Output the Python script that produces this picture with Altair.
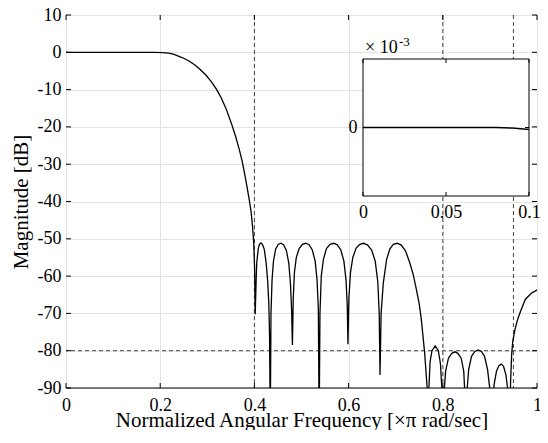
import altair as alt
import pandas as pd

# ---------------- data ----------------
freq = [
    0, 0.05, 0.1, 0.15, 0.19, 0.205, 0.2175, 0.228, 0.2386, 0.25, 0.262, 0.2737, 0.285, 0.297,
    0.3088, 0.32, 0.33, 0.341, 0.351, 0.36, 0.368, 0.374, 0.379, 0.384, 0.389, 0.393, 0.396,
    0.3985, 0.4005, 0.4017,
    0.4040, 0.405, 0.4084, 0.4110, 0.414, 0.4175, 0.4211, 0.4250, 0.428, 0.4305, 0.4322, 0.4337,
    0.4352, 0.4375, 0.4405, 0.4450, 0.4505, 0.456, 0.4620, 0.4680, 0.4730, 0.4765, 0.4790, 0.4807,
    0.4825, 0.4850, 0.4890, 0.4950, 0.5020, 0.5088, 0.5160, 0.5230, 0.5290, 0.5330, 0.5358, 0.5375,
    0.5392, 0.5420, 0.5465, 0.5530, 0.5605, 0.5684, 0.5760, 0.5835, 0.5900, 0.5945, 0.5972, 0.5986,
    0.6006, 0.6040, 0.6090, 0.6160, 0.6240, 0.6316, 0.6400, 0.6490, 0.6565, 0.6620, 0.6650, 0.6667,
    0.6690, 0.6737, 0.6807, 0.6877, 0.6950, 0.7032, 0.7120, 0.7210, 0.7298, 0.7370, 0.7440, 0.7500,
    0.7544, 0.7614, 0.7670, 0.7684,
    0.7705, 0.7730, 0.7770, 0.7839, 0.7905, 0.7950, 0.7980, 0.8000,
    0.8022, 0.8060, 0.8120, 0.8190, 0.8260, 0.8320, 0.8390, 0.8445, 0.8470, 0.8490,
    0.8512, 0.8550, 0.8610, 0.8680, 0.8750, 0.8820, 0.8885, 0.8950, 0.9005, 0.9030,
    0.9055, 0.9090, 0.9140, 0.9190, 0.9240, 0.9290, 0.9340, 0.9375, 0.9400, 0.9420,
    0.9440, 0.9462, 0.9485, 0.953, 0.958, 0.9614, 0.968, 0.9754, 0.988, 1.0,
]
mag_db = [
    0, 0, 0, 0, -0.02, -0.08, -0.2, -0.5, -1.0, -1.6, -2.4, -3.4, -4.6, -6.1,
    -7.9, -10.0, -12.3, -15.5, -19.0, -22.5, -26.1, -29.2, -32.4, -35.8, -39.5, -42.8, -46.6,
    -51, -58, -70.2,
    -60, -56.4, -52.5, -51.4, -51.1, -51.6, -52.9, -56.5, -61, -67, -76, -100,
    -70, -61, -56, -52.8, -51.5, -51.2, -51.6, -53.2, -56.5, -62, -69, -78.5,
    -66, -59, -55, -52.6, -51.5, -51.2, -51.6, -53, -56, -61, -69, -100,
    -70, -60, -55.5, -52.6, -51.5, -51.2, -51.6, -53, -56, -61, -68, -78.3,
    -66, -59, -55, -52.5, -51.5, -51.2, -51.6, -53, -56, -61.5, -70, -86.5,
    -70, -61.8, -55.5, -52.7, -51.5, -51.2, -51.7, -53.3, -56.4, -59.5, -63.6, -67.5,
    -71.6, -80.5, -90.3, -100,
    -90, -83, -80, -78.7, -80, -83.5, -90, -100,
    -92, -85.5, -82, -80.7, -80.3, -80.7, -82, -85.5, -92, -100,
    -91, -85, -81.5, -80.2, -79.8, -80.2, -81.5, -85, -91, -100,
    -95, -89, -85.5, -84, -83.6, -84.2, -86.5, -90, -96, -100,
    -88, -81, -77.5, -74.5, -72, -70.7, -68.5, -66.2, -64.6, -63.7,
]

# inset (zoom of the passband), magnitude in units of 1e-3 dB
inset_freq = [0, 0.02, 0.04, 0.06, 0.08, 0.085, 0.09, 0.095, 0.1]
inset_mag = [0, 0, 0, 0, 0, -0.004, -0.009, -0.018, -0.03]

x_ticks = [0, 0.2, 0.4, 0.6, 0.8, 1]
y_ticks = [10, 0, -10, -20, -30, -40, -50, -60, -70, -80, -90]
band_edges = [0.4, 0.8, 0.95]
stop_level = [-80]
inset_x_ticks = [0, 0.05, 0.1]
inset_y_ticks = [0]
inset_box = {"x0": [0], "x1": [0.1], "y0": [-1], "y1": [1]}

x_title = "Normalized Angular Frequency [\u00d7\u03c0 rad/sec]"
y_title = "Magnitude [dB]"
exp_base_text = "\u00d7 10"
exp_pow_text = "-3"

# ---------------- styling ----------------
W, H = 471, 373
PAD_L = 58
FONT = "Liberation Serif"
LBL = 18
TTL = 21
GRID = "#e3e3e3"
DASH = "#444444"

main_df = pd.DataFrame({"f": freq, "m": mag_db})
inset_df = pd.DataFrame({"f": inset_freq, "m": inset_mag})
xt_df = pd.DataFrame({"v": x_ticks})
yt_df = pd.DataFrame({"v": y_ticks})
edge_df = pd.DataFrame({"v": band_edges})
lvl_df = pd.DataFrame({"v": stop_level})
ixt_df = pd.DataFrame({"v": inset_x_ticks})
iyt_df = pd.DataFrame({"v": inset_y_ticks})
box_df = pd.DataFrame(inset_box)
dummy = pd.DataFrame({"v": [-90]})


def xs():
    return alt.Scale(domain=[0, 1], nice=False, zero=False)


def ys():
    return alt.Scale(domain=[-90, 10], nice=False, zero=False)


lbl_expr = "'' + datum.value"

x_axis = alt.Axis(values=x_ticks, labelExpr=lbl_expr, title=x_title, grid=True, gridColor=GRID,
                  ticks=False, domain=False, labelFont=FONT, labelFontSize=LBL, labelColor="black",
                  labelPadding=8, labelFlush=False, titleFont=FONT, titleFontSize=TTL,
                  titleFontWeight="normal", titleColor="black", titleY=38,
                  titleBaseline="alphabetic", orient="bottom")
y_axis = alt.Axis(values=y_ticks, labelExpr=lbl_expr, title=y_title, grid=True, gridColor=GRID,
                  ticks=False, domain=False, labelFont=FONT, labelFontSize=LBL, labelColor="black",
                  labelPadding=5, labelFlush=False, titleFont=FONT, titleFontSize=TTL,
                  titleFontWeight="normal", titleColor="black", titleX=-39, titleY=H / 2,
                  titleBaseline="alphabetic", orient="left")

curve = alt.Chart(main_df).mark_line(color="black", strokeWidth=1.3, clip=True).encode(
    x=alt.X("f:Q", scale=xs(), axis=x_axis),
    y=alt.Y("m:Q", scale=ys(), axis=y_axis),
)

edges = alt.Chart(edge_df).mark_rule(color=DASH, strokeDash=[4, 3], strokeWidth=1).encode(
    x=alt.X("v:Q", scale=xs(), axis=None))
level = alt.Chart(lvl_df).mark_rule(color=DASH, strokeDash=[4, 3], strokeWidth=1).encode(
    y=alt.Y("v:Q", scale=ys(), axis=None))
bottom = alt.Chart(dummy).mark_rule(color="black", strokeWidth=1.2).encode(
    y=alt.Y("v:Q", scale=ys(), axis=None))

tick_b = alt.Chart(xt_df).mark_rule(color="black").encode(
    x=alt.X("v:Q", scale=xs(), axis=None), y=alt.value(H), y2=alt.value(H - 5))
tick_t = alt.Chart(xt_df).mark_rule(color="black").encode(
    x=alt.X("v:Q", scale=xs(), axis=None), y=alt.value(0), y2=alt.value(5))
tick_l = alt.Chart(yt_df).mark_rule(color="black").encode(
    y=alt.Y("v:Q", scale=ys(), axis=None), x=alt.value(0), x2=alt.value(5))
tick_r = alt.Chart(yt_df).mark_rule(color="black").encode(
    y=alt.Y("v:Q", scale=ys(), axis=None), x=alt.value(W), x2=alt.value(W - 5))

# ---------------- inset ----------------
IX0, IX1 = 297, 463
IYT, IYB = 44, 181


def ixs():
    return alt.Scale(domain=[0, 0.1], range=[IX0, IX1], nice=False, zero=False)


def iys():
    return alt.Scale(domain=[-1, 1], range=[IYB, IYT], nice=False, zero=False)


ix_axis = alt.Axis(orient="bottom", offset=-(H - IYB), values=inset_x_ticks, labelExpr=lbl_expr,
                   title=None, grid=False, ticks=False, domain=False, labelFont=FONT,
                   labelFontSize=LBL, labelColor="black", labelPadding=7, labelFlush=False, zindex=1)
iy_axis = alt.Axis(orient="left", offset=-IX0, values=inset_y_ticks, labelExpr=lbl_expr,
                   title=None, grid=False, ticks=False, domain=False, labelFont=FONT,
                   labelFontSize=LBL, labelColor="black", labelPadding=6, labelFlush=False, zindex=1)

box = alt.Chart(box_df).mark_rect(fill="white", stroke="black", strokeWidth=1).encode(
    x=alt.X("x0:Q", scale=ixs(), axis=ix_axis), x2="x1:Q",
    y=alt.Y("y0:Q", scale=iys(), axis=iy_axis), y2="y1:Q",
)
icurve = alt.Chart(inset_df).mark_line(color="black", strokeWidth=1.5).encode(
    x=alt.X("f:Q", scale=ixs(), axis=None), y=alt.Y("m:Q", scale=iys(), axis=None))
itick_b = alt.Chart(ixt_df).mark_rule(color="black").encode(
    x=alt.X("v:Q", scale=ixs(), axis=None), y=alt.value(IYB), y2=alt.value(IYB - 4))
itick_t = alt.Chart(ixt_df).mark_rule(color="black").encode(
    x=alt.X("v:Q", scale=ixs(), axis=None), y=alt.value(IYT), y2=alt.value(IYT + 4))
itick_l = alt.Chart(iyt_df).mark_rule(color="black").encode(
    y=alt.Y("v:Q", scale=iys(), axis=None), x=alt.value(IX0), x2=alt.value(IX0 + 4))
itick_r = alt.Chart(iyt_df).mark_rule(color="black").encode(
    y=alt.Y("v:Q", scale=iys(), axis=None), x=alt.value(IX1), x2=alt.value(IX1 - 4))

exp_base = alt.Chart(box_df).mark_text(text=exp_base_text, font=FONT, fontSize=18, align="left",
                                       baseline="alphabetic", dx=2, dy=-6, color="black").encode(
    x=alt.X("x0:Q", scale=ixs(), axis=None), y=alt.Y("y1:Q", scale=iys(), axis=None))
exp_pow = alt.Chart(box_df).mark_text(text=exp_pow_text, font=FONT, fontSize=13, align="left",
                                      baseline="alphabetic", dx=36, dy=-13, color="black").encode(
    x=alt.X("x0:Q", scale=ixs(), axis=None), y=alt.Y("y1:Q", scale=iys(), axis=None))

chart = alt.layer(
    edges, level, curve, bottom, tick_b, tick_t, tick_l, tick_r,
    box, icurve, itick_b, itick_t, itick_l, itick_r, exp_base, exp_pow,
).resolve_scale(x="independent", y="independent").properties(
    width=W, height=H,
    autosize=alt.AutoSizeParams(type="none"),
    padding={"left": PAD_L, "top": 7, "right": 3, "bottom": 42},
).configure_view(stroke="#c4c4c4", strokeWidth=1).configure(background="white")

chart.save("out.html", embed_options={"renderer": "svg", "actions": False})
